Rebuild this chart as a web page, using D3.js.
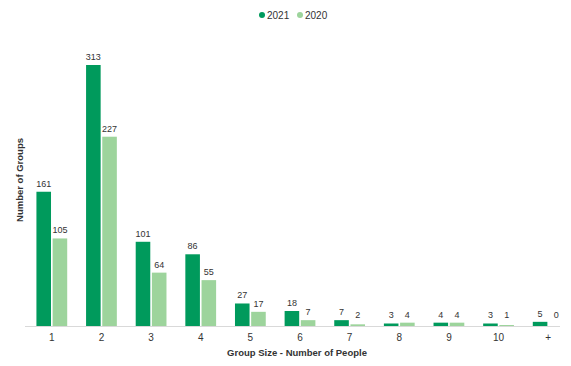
<!DOCTYPE html>
<html>
<head>
<meta charset="utf-8">
<script src="https://cdn.jsdelivr.net/npm/d3@7"></script>
<style>
  body { margin: 0; background: #fff; }
  text { font-family: "Liberation Sans", Arial, sans-serif; fill: #333; }
</style>
</head>
<body>
<svg id="chart" width="571" height="366"></svg>
<script>
const categories = ["1", "2", "3", "4", "5", "6", "7", "8", "9", "10", "+"];
const seriesNames = ["2021", "2020"];
const values2021 = [161, 313, 101, 86, 27, 18, 7, 3, 4, 3, 5];
const values2020 = [105, 227, 64, 55, 17, 7, 2, 4, 4, 1, 0];
const COLORS = ["#009a5c", "#9dd49c"];

const svg = d3.select("#chart");
const baseY = 326;

const x = d3.scaleBand().domain(categories).range([27, 573]).paddingInner(0.38).paddingOuter(0.19);
const xs = d3.scaleBand().domain(seriesNames).range([0, x.bandwidth()]).paddingInner(0.1);
const y = d3.scaleLinear().domain([0, 313]).range([baseY, 65]);

const rows = categories.map((c, i) => ({ cat: c, vals: [values2021[i], values2020[i]] }));
const barTop = (v) => v === 0 ? baseY : Math.min(y(v), baseY - 1);

// baseline
svg.append("line")
  .attr("x1", 25).attr("x2", 560)
  .attr("y1", baseY + 0.5).attr("y2", baseY + 0.5)
  .attr("stroke", "#d9d9d9");

const groups = svg.selectAll(".grp")
  .data(rows)
  .enter()
  .append("g")
  .attr("transform", (d) => `translate(${x(d.cat)},0)`);

groups.selectAll("rect")
  .data((d) => d.vals.map((v, k) => ({ key: seriesNames[k], v, k })))
  .enter()
  .append("rect")
  .attr("x", (d) => xs(d.key))
  .attr("width", xs.bandwidth())
  .attr("y", (d) => barTop(d.v))
  .attr("height", (d) => baseY - barTop(d.v))
  .attr("fill", (d) => COLORS[d.k]);

groups.selectAll(".val")
  .data((d) => d.vals.map((v, k) => ({ key: seriesNames[k], v, k })))
  .enter()
  .append("text")
  .attr("x", (d) => xs(d.key) + xs.bandwidth() / 2)
  .attr("y", (d) => Math.min(barTop(d.v), baseY - 3) - 5)
  .attr("text-anchor", "middle")
  .attr("font-size", "9px")
  .text((d) => d.v);

// x axis labels
const xAxis = d3.axisBottom(x).tickSize(0).tickPadding(8);
svg.append("g")
  .attr("transform", `translate(0,${baseY})`)
  .call(xAxis)
  .call((g) => g.select(".domain").remove())
  .selectAll("text")
  .attr("font-size", "10px")
  .attr("fill", "#333");

svg.append("text")
  .attr("x", 297).attr("y", 356)
  .attr("text-anchor", "middle")
  .attr("font-size", "9.5px")
  .attr("font-weight", "bold")
  .text("Group Size - Number of People");

svg.append("text")
  .attr("transform", "translate(23,180) rotate(-90)")
  .attr("text-anchor", "middle")
  .attr("font-size", "9.5px")
  .attr("font-weight", "bold")
  .text("Number of Groups");

// legend
const legend = svg.append("g").attr("transform", "translate(262,15)");
const legendX = [0, 38];
seriesNames.forEach((s, k) => {
  legend.append("circle")
    .attr("cx", legendX[k]).attr("cy", 0).attr("r", 3)
    .attr("fill", COLORS[k]);
  legend.append("text")
    .attr("x", legendX[k] + 5).attr("y", 3.5)
    .attr("font-size", "10px")
    .text(s);
});
</script>
</body>
</html>
